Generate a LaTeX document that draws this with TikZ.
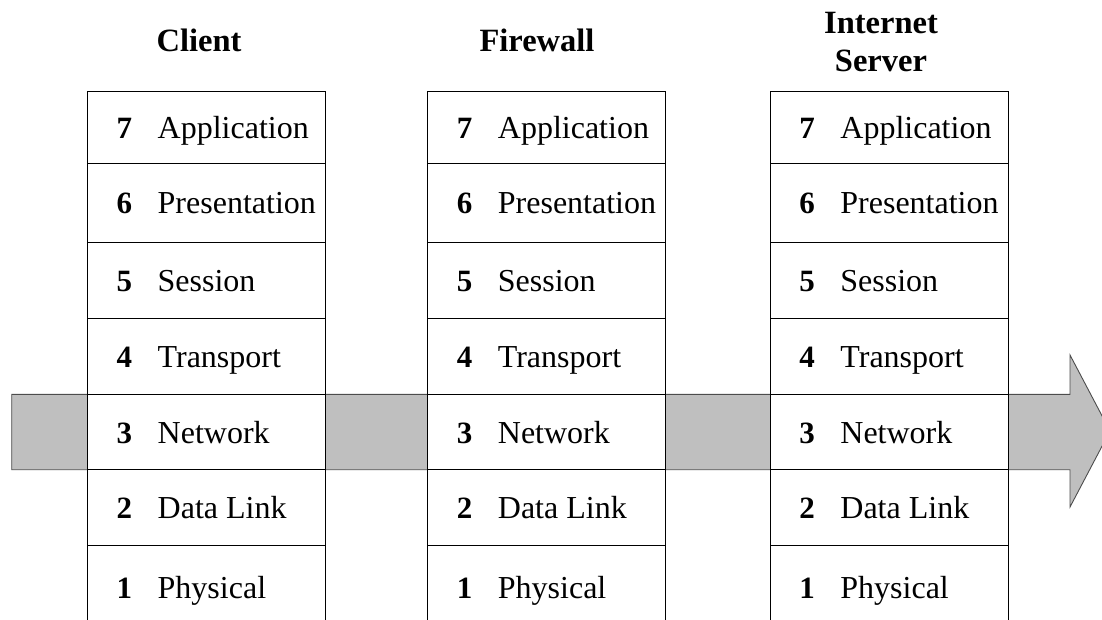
\documentclass[tikz,border=0pt]{standalone}
\usepackage{fontspec}
\setmainfont{Liberation Serif}
\begin{document}
\begin{tikzpicture}[x=1pt,y=-1pt,
  cell/.style={draw=black, line width=0.9pt, fill=white, inner sep=0pt,
    minimum width=238pt, anchor=north west, outer sep=0pt},
  num/.style={anchor=base west, inner sep=0pt, font=\fontsize{31}{36}\selectfont\bfseries},
  lab/.style={anchor=base west, inner sep=0pt, font=\fontsize{32}{36}\selectfont},
  title/.style={anchor=base, inner sep=0pt, align=center,
    font=\fontsize{32.5}{37.7}\selectfont\bfseries},
  flow/.style={fill=black!25, draw=black!70, line width=0.9pt, line join=miter}]
\useasboundingbox (0,0) rectangle (1102,619);
\clip (0,0) rectangle (1102,619);

% block arrow running through the network layer
\coordinate (tail top) at (11.7,394.3);
\coordinate (tail bot) at (11.7,469.7);
\coordinate (neck top) at (1070,394.3);
\coordinate (neck bot) at (1070,469.7);
\coordinate (barb top) at (1070,355);
\coordinate (barb bot) at (1070,507);
\coordinate (tip) at (1110,431);
\draw[flow] (tail top) -- (neck top) -- (barb top) -- (tip) -- (barb bot)
  -- (neck bot) -- (tail bot) -- cycle;

% the three protocol stacks
\foreach \c/\x in {1/87.5, 2/427.7, 3/770.2} {
  \foreach \n/\top/\bot/\name in {7/91.7/163.3/Application,
                                  6/163.3/242.5/Presentation,
                                  5/242.5/318.7/Session,
                                  4/318.7/394.3/Transport,
                                  3/394.3/469.7/Network,
                                  2/469.7/545.3/Data Link,
                                  1/545.3/630/Physical} {
    \pgfmathsetmacro{\h}{\bot-\top}
    \pgfmathsetmacro{\mid}{(\top+\bot)/2+11}
    \node[cell, minimum height=\h pt] (s\c l\n) at (\x,\top) {};
    \node[num] (s\c n\n) at (\x+29,\mid) {\n};
    \node[lab] (s\c t\n) at (\x+70,\mid) {\name};
  }
}

% stack headings
\node[title] (client) at (199,51.7) {Client};
\node[title] (firewall) at (537,51.7) {Firewall};
\node[title] (server) at (881,71) {Internet\\Server};
\end{tikzpicture}
\end{document}
